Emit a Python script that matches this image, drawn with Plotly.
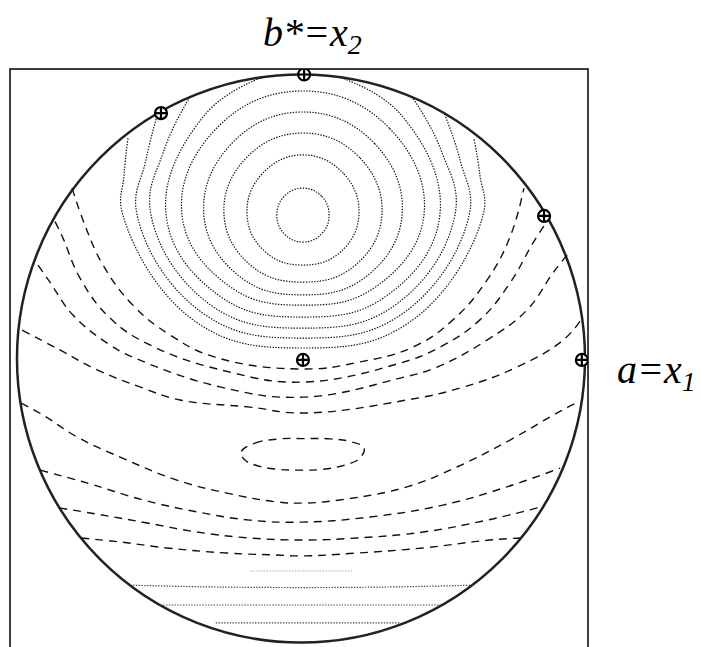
import plotly.graph_objects as go

# design points (coded units a = x1, b* = x2)
design_x1 = [0.007, 0.989, 0.011, 0.856, -0.493]
design_x2 = [-0.005, -0.005, 1.0, 0.502, 0.864]

# dotted contours around the optimum near (0, 0.5)
ring_x1 = [
    [0.007, 0.073, 0.099, 0.073, 0.007, -0.059, -0.085, -0.059, 0.007],
    [0.007, 0.151, 0.204, 0.138, 0.007, -0.124, -0.190, -0.137, 0.007],
    [0.007, 0.208, 0.285, 0.187, 0.007, -0.173, -0.271, -0.193, 0.007],
    [0.007, 0.259, 0.356, 0.226, 0.007, -0.212, -0.342, -0.244, 0.007],
    [0.007, 0.312, 0.433, 0.261, 0.007, -0.247, -0.419, -0.298, 0.007],
    [-0.134, -0.342, -0.475, -0.282, 0.007, 0.296, 0.489, 0.356, 0.134],
    [-0.391, -0.482, -0.528, -0.313, 0.007, 0.327, 0.542, 0.493, 0.391],
    [-0.504, -0.546, -0.577, -0.342, 0.007, 0.356, 0.592, 0.560, 0.504],
    [-0.609, -0.623, -0.627, -0.370, 0.007, 0.384, 0.641, 0.630, 0.609],
]
ring_x2 = [
    [0.600, 0.571, 0.505, 0.439, 0.410, 0.439, 0.505, 0.571, 0.600],
    [0.717, 0.650, 0.505, 0.374, 0.329, 0.374, 0.505, 0.650, 0.717],
    [0.794, 0.706, 0.505, 0.325, 0.269, 0.325, 0.505, 0.706, 0.794],
    [0.868, 0.757, 0.505, 0.286, 0.224, 0.286, 0.505, 0.757, 0.868],
    [0.942, 0.810, 0.505, 0.251, 0.188, 0.251, 0.505, 0.810, 0.942],
    [0.991, 0.854, 0.505, 0.217, 0.146, 0.217, 0.505, 0.854, 0.991],
    [0.921, 0.734, 0.505, 0.185, 0.107, 0.185, 0.505, 0.734, 0.921],
    [0.864, 0.699, 0.505, 0.157, 0.072, 0.157, 0.505, 0.699, 0.864],
    [0.776, 0.646, 0.505, 0.129, 0.037, 0.129, 0.505, 0.646, 0.776],
]

# dashed contours above the saddle
upper_x1 = [
    [-0.806, -0.761, -0.697, -0.592, -0.461, -0.303, 0.007, 0.208, 0.394, 0.535, 0.655, 0.736, 0.785],
    [-0.866, -0.838, -0.778, -0.673, -0.532, -0.250, 0.007, 0.349, 0.489, 0.630, 0.736, 0.817, 0.870],
    [-0.926, -0.884, -0.803, -0.673, -0.592, -0.285, 0.007, 0.349, 0.479, 0.655, 0.796, 0.887, 0.937],
    [-0.982, -0.849, -0.718, -0.567, -0.426, -0.180, 0.007, 0.373, 0.560, 0.761, 0.923, 0.986],
]
upper_x2 = [
    [0.600, 0.470, 0.329, 0.188, 0.083, 0.005, -0.037, -0.012, 0.040, 0.136, 0.276, 0.428, 0.600],
    [0.482, 0.424, 0.283, 0.143, 0.048, -0.048, -0.083, -0.016, 0.040, 0.136, 0.266, 0.407, 0.488],
    [0.329, 0.269, 0.153, 0.048, 0.005, -0.100, -0.136, -0.069, -0.030, 0.065, 0.171, 0.301, 0.364],
    [0.100, 0.030, -0.040, -0.100, -0.146, -0.171, -0.192, -0.146, -0.104, -0.030, 0.065, 0.136],
]

# dashed contours below the saddle
lower_x1 = [
    [-0.986, -0.908, -0.789, -0.637, -0.437, -0.261, -0.085, 0.007, 0.137, 0.373, 0.549, 0.736, 0.901, 0.982],
    [-0.919, -0.754, -0.556, -0.366, -0.180, 0.007, 0.243, 0.500, 0.725, 0.912],
    [-0.852, -0.718, -0.542, -0.366, -0.180, 0.007, 0.197, 0.430, 0.655, 0.845],
    [-0.775, -0.637, -0.472, -0.261, -0.085, 0.007, 0.197, 0.430, 0.665, 0.775],
]
lower_x2 = [
    [-0.157, -0.199, -0.276, -0.347, -0.428, -0.474, -0.505, -0.509, -0.498, -0.452, -0.382, -0.287, -0.192, -0.150],
    [-0.393, -0.438, -0.498, -0.540, -0.569, -0.576, -0.558, -0.516, -0.452, -0.386],
    [-0.526, -0.548, -0.579, -0.611, -0.632, -0.639, -0.632, -0.611, -0.569, -0.523],
    [-0.632, -0.646, -0.667, -0.685, -0.692, -0.695, -0.685, -0.667, -0.639, -0.632],
]

# small closed dashed contour
ellipse_x1 = [-0.211, -0.162, -0.074, 0.007, 0.102, 0.180, 0.222, 0.208, 0.155, 0.067, 0.007, -0.092, -0.162, -0.201, -0.211]
ellipse_x2 = [-0.329, -0.298, -0.283, -0.282, -0.283, -0.294, -0.315, -0.350, -0.375, -0.391, -0.393, -0.389, -0.375, -0.354, -0.329]

# flat dotted contours near the bottom
flat_x1 = [[-0.180, 0.180], [-0.602, -0.261, 0.268, 0.606], [-0.496, -0.004, 0.496], [-0.300, 0.349]]
flat_x2 = [[-0.748, -0.748], [-0.798, -0.805, -0.805, -0.798], [-0.868, -0.868, -0.868], [-0.931, -0.931]]
flat_colors = ['#bbbbbb', '#444444', '#444444', '#444444']

fig = go.Figure()


def add_curve(x, y, dash, color, width):
    fig.add_trace(go.Scatter(
        x=x, y=y, mode='lines', hoverinfo='skip', showlegend=False,
        line=dict(color=color, width=width, dash=dash, shape='spline', smoothing=1.2)))


for x, y in zip(ring_x1, ring_x2):
    add_curve(x, y, '1.4px,1.4px', '#111111', 1.2)

for x, y in zip(upper_x1 + lower_x1, upper_x2 + lower_x2):
    add_curve(x, y, '8px,6px', '#111111', 1.4)

add_curve(ellipse_x1, ellipse_x2, '8px,6px', '#111111', 1.4)

for x, y, c in zip(flat_x1, flat_x2, flat_colors):
    add_curve(x, y, '1.4px,1.4px', c, 1.2)

# design points
fig.add_trace(go.Scatter(
    x=design_x1, y=design_x2, mode='markers', hoverinfo='skip', showlegend=False,
    marker=dict(symbol='circle-cross', size=12, color='white',
                line=dict(color='black', width=2.2))))

# experimental region and frame
fig.add_shape(type='circle', xref='x', yref='y', x0=-1, y0=-1, x1=1, y1=1,
              line=dict(color='#222222', width=2.5), layer='below')
fig.add_shape(type='rect', xref='paper', yref='paper', x0=0, y0=-0.01, x1=1, y1=1,
              line=dict(color='black', width=1.5))

label_font = dict(family='Liberation Serif', size=40, color='black')
fig.add_annotation(text='<i>b*=x<sub>2</sub></i>', xref='paper', yref='paper',
                   x=0.524, y=1.058, xanchor='center', yanchor='middle',
                   showarrow=False, font=label_font)
fig.add_annotation(text='<i>a=x<sub>1</sub></i>', xref='paper', yref='paper',
                   x=1.119, y=0.476, xanchor='center', yanchor='middle',
                   showarrow=False, font=label_font)

# page body keeps its default 8px margin, so the figure is 8px smaller
fig.update_layout(
    width=693, height=639,
    margin=dict(l=2, r=113, t=61, b=0),
    plot_bgcolor='white', paper_bgcolor='white',
    xaxis=dict(range=[-1.0246, 1.0106], visible=False),
    yaxis=dict(range=[-1.0158, 1.0194], visible=False),
)

fig.write_html("out.html")
